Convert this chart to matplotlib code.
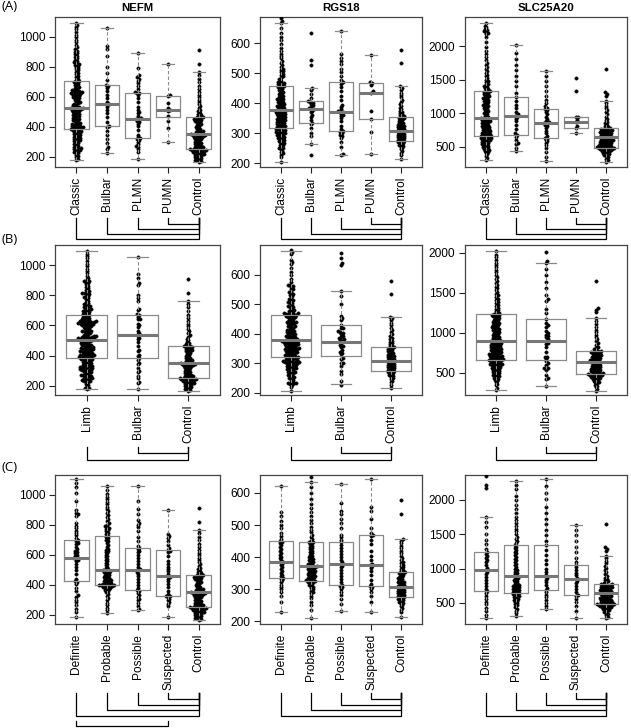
import matplotlib
matplotlib.use("Agg")
import matplotlib.pyplot as plt
import matplotlib.transforms as mtransforms
import numpy as np

plt.rcParams['font.family'] = ['Liberation Sans', 'DejaVu Sans']

# ---------------- data ----------------
genes = ["NEFM", "RGS18", "SLC25A20"]
groups_a = ["Classic", "Bulbar", "PLMN", "PUMN", "Control"]
groups_b = ["Limb", "Bulbar", "Control"]
groups_c = ["Definite", "Probable", "Possible", "Suspected", "Control"]

# NEFM
nefm_classic = [178, 186, 199, 207, 214, 222, 229, 233, 238, 241, 244, 248, 252, 257, 263, 266, 271, 279, 284, 290,
                296, 301, 305, 309, 314, 318, 322, 327, 331, 334, 338, 342, 347, 351, 355, 359, 362, 366, 370, 373,
                377, 380, 383, 386, 389, 392, 394, 397, 399, 402, 405, 409, 412, 416, 419, 423, 427, 431, 436, 441,
                445, 450, 454, 459, 463, 468, 472, 477, 481, 486, 490, 495, 499, 503, 507, 511, 514, 517, 520, 522,
                524, 526, 529, 533, 537, 542, 547, 553, 558, 563, 569, 574, 579, 584, 589, 594, 598, 602, 606, 610,
                614, 617, 620, 623, 626, 629, 632, 635, 638, 642, 647, 653, 659, 665, 671, 677, 683, 689, 695, 700,
                705, 712, 720, 729, 738, 748, 757, 766, 775, 783, 791, 799, 806, 812, 818, 824, 830, 838, 846, 855,
                864, 873, 882, 890, 898, 907, 918, 931, 946, 962, 978, 995, 1012, 1030, 1048, 1064, 1078, 1093]
nefm_bulbar = [222, 248, 262, 290, 318, 345, 372, 398, 405, 430, 462, 488, 512, 530, 545, 552, 566, 590, 612, 640,
               655, 668, 676, 712, 760, 800, 868, 915, 940, 1055]
nefm_bulbar_extra = [180, 215, 300, 352, 384, 440, 520, 600, 640, 700, 780, 880]
nefm_plmn = [182, 230, 248, 262, 270, 285, 300, 312, 318, 324, 330, 345, 380, 402, 418, 430, 440, 446, 451, 455,
             470, 488, 500, 512, 530, 562, 590, 612, 622, 627, 632, 650, 672, 690, 705, 718, 730, 742, 790, 893]
nefm_pumn = [300, 390, 440, 470, 505, 511, 525, 560, 607, 612, 818]
nefm_control = [167, 172, 176, 180, 183, 188, 191, 196, 199, 204, 207, 211, 214, 218, 220, 223, 226, 228, 232, 234,
                236, 238, 240, 242, 244, 246, 248, 250, 252, 253, 256, 259, 262, 266, 268, 273, 276, 281, 285, 290,
                296, 300, 305, 311, 315, 320, 324, 328, 331, 334, 337, 340, 342, 344, 346, 348, 351, 354, 357, 360,
                364, 368, 372, 377, 382, 387, 392, 398, 404, 410, 416, 422, 428, 433, 438, 442, 446, 450, 454, 458,
                461, 464, 467, 472, 478, 485, 493, 502, 512, 523, 535, 548, 562, 578, 595, 612, 630, 650, 672, 695,
                720, 745, 762, 818, 911]
nefm_definite = [182, 215, 240, 262, 285, 300, 318, 330, 355, 380, 402, 415, 422, 440, 470, 500, 520, 540, 555, 565,
                 572, 578, 585, 592, 600, 610, 618, 625, 635, 650, 668, 680, 692, 700, 712, 730, 745, 760, 775, 790,
                 810, 860, 870, 880, 900, 960, 1010, 1050, 1080, 1104]
nefm_probable = [211, 228, 245, 262, 280, 298, 312, 325, 338, 348, 356, 362, 368, 372, 376, 380, 383, 386, 389, 391,
                 393, 395, 397, 399, 400, 402, 405, 408, 411, 414, 418, 422, 426, 430, 434, 438, 442, 447, 452, 457,
                 462, 467, 472, 477, 482, 486, 490, 494, 497, 500, 505, 512, 520, 528, 537, 546, 555, 564, 573, 582,
                 591, 600, 608, 615, 622, 630, 640, 652, 664, 676, 688, 698, 708, 718, 727, 735, 745, 755, 765, 772,
                 778, 785, 792, 800, 810, 822, 835, 848, 862, 876, 890, 905, 920, 935, 950, 968, 985, 1005, 1030, 1060]
nefm_possible = [229, 240, 258, 275, 295, 305, 318, 330, 345, 358, 367, 380, 400, 420, 440, 458, 472, 485, 495, 500,
                 505, 520, 540, 560, 580, 600, 615, 625, 635, 642, 660, 690, 720, 760, 785, 800, 812, 830, 870, 905,
                 960, 1060]
nefm_suspected = [184, 255, 272, 285, 296, 305, 315, 322, 327, 340, 360, 385, 405, 425, 440, 450, 456, 470, 490, 505,
                  520, 540, 560, 590, 615, 625, 633, 645, 665, 690, 710, 722, 735, 900]

# RGS18
rgs18_classic = [206, 221, 229, 234, 238, 243, 247, 250, 253, 257, 260, 262, 265, 268, 270, 273, 276, 278, 280, 283,
                 285, 287, 289, 291, 293, 295, 297, 299, 301, 302, 304, 306, 308, 310, 311, 313, 315, 316, 318, 320,
                 321, 323, 325, 326, 328, 330, 331, 333, 335, 336, 338, 340, 342, 343, 345, 347, 348, 350, 352, 354,
                 355, 357, 359, 361, 363, 364, 366, 368, 370, 371, 373, 375, 376, 378, 380, 382, 384, 386, 388, 390,
                 392, 394, 396, 398, 400, 402, 404, 406, 409, 411, 414, 416, 419, 421, 424, 427, 430, 433, 436, 439,
                 442, 445, 448, 451, 454, 456, 458, 461, 463, 465, 467, 469, 472, 476, 480, 485, 490, 494, 498, 503,
                 507, 511, 516, 522, 528, 535, 542, 550, 558, 566, 575, 585, 597, 610, 622, 635, 650, 669, 675, 683]
rgs18_bulbar = [228, 263, 290, 300, 318, 330, 336, 345, 355, 362, 370, 376, 380, 382, 384, 388, 393, 398, 402, 405,
                408, 418, 430, 445, 452, 528, 544, 633]
rgs18_bulbar_extra = [240, 275, 300, 315, 340, 360, 420, 460, 500, 640, 656, 673]
rgs18_plmn = [228, 232, 255, 270, 283, 290, 296, 302, 306, 308, 315, 325, 340, 350, 358, 362, 366, 370, 372, 375,
              380, 388, 395, 410, 425, 440, 455, 465, 470, 478, 492, 505, 515, 530, 540, 552, 565, 642]
rgs18_pumn = [233, 305, 349, 375, 435, 440, 460, 467, 470, 561]
rgs18_control = [215, 228, 236, 242, 247, 251, 255, 258, 261, 264, 267, 269, 271, 273, 275, 277, 279, 281, 283, 285,
                 287, 289, 291, 293, 295, 297, 299, 301, 303, 305, 307, 309, 311, 313, 315, 317, 320, 322, 324, 326,
                 329, 331, 334, 336, 339, 341, 344, 347, 350, 352, 354, 357, 360, 364, 368, 372, 376, 381, 386, 392,
                 398, 405, 412, 420, 428, 436, 445, 452, 457, 535, 578]
rgs18_definite = [228, 262, 280, 292, 300, 308, 315, 322, 328, 333, 335, 340, 346, 352, 358, 364, 370, 375, 380, 384,
                  386, 390, 396, 402, 408, 414, 420, 426, 432, 438, 444, 448, 452, 458, 465, 475, 490, 500, 512, 528,
                  540, 621]
rgs18_probable = [210, 235, 250, 262, 272, 280, 287, 292, 296, 300, 304, 308, 311, 314, 317, 320, 322, 324, 326, 327,
                  329, 331, 333, 335, 337, 339, 341, 343, 345, 347, 349, 351, 353, 355, 357, 359, 361, 363, 365, 367,
                  369, 371, 372, 373, 374, 376, 378, 380, 383, 386, 389, 392, 395, 398, 401, 404, 408, 412, 416, 420,
                  424, 428, 432, 436, 440, 444, 446, 448, 452, 458, 464, 470, 478, 486, 495, 505, 515, 528, 540, 552,
                  565, 580, 600, 618, 633, 650]
rgs18_possible = [233, 255, 270, 282, 292, 300, 306, 310, 314, 322, 332, 342, 352, 360, 368, 374, 379, 384, 392, 400,
                  410, 420, 430, 438, 446, 455, 462, 470, 490, 505, 520, 535, 545, 570, 629]
rgs18_suspected = [228, 262, 280, 292, 300, 306, 309, 318, 330, 345, 358, 366, 372, 375, 380, 392, 405, 420, 440, 455,
                   465, 470, 475, 490, 520, 545, 555, 644]

# SLC25A20
slc_classic = [301, 330, 360, 385, 405, 420, 435, 448, 460, 472, 483, 494, 505, 515, 525, 535, 545, 555, 564, 572,
               580, 588, 595, 602, 608, 614, 620, 626, 632, 638, 644, 650, 655, 659, 665, 672, 680, 688, 695, 702,
               710, 718, 726, 734, 742, 750, 758, 766, 774, 782, 790, 798, 806, 814, 822, 830, 838, 846, 854, 862,
               870, 878, 886, 894, 902, 910, 916, 922, 935, 950, 965, 980, 995, 1010, 1025, 1040, 1055, 1070, 1085,
               1100, 1112, 1124, 1136, 1148, 1160, 1172, 1184, 1196, 1208, 1220, 1232, 1244, 1256, 1268, 1280, 1292,
               1304, 1316, 1326, 1334, 1350, 1365, 1380, 1395, 1410, 1425, 1440, 1460, 1480, 1500, 1525, 1550, 1575,
               1600, 1630, 1660, 1690, 1720, 1750, 1790, 1830, 1880, 1930, 1990, 2060, 2130, 2180, 2200, 2215, 2230,
               2245, 2260, 2280, 2300, 2348]
slc_bulbar = [440, 480, 540, 560, 600, 650, 679, 700, 760, 830, 880, 920, 950, 957, 980, 1020, 1080, 1120, 1180, 1245,
              1300, 1400, 1480, 1560, 1640, 1720, 1800, 1900, 2015]
slc_bulbar_extra = [333, 420, 560, 620, 700, 860, 900, 1000, 1100, 1420, 1875]
slc_plmn = [291, 350, 420, 480, 520, 555, 580, 600, 620, 634, 660, 700, 740, 780, 810, 830, 845, 858, 870, 890,
            920, 950, 980, 1010, 1040, 1056, 1075, 1100, 1150, 1200, 1260, 1330, 1400, 1480, 1560, 1632]
slc_pumn = [699, 783, 810, 872, 900, 947, 950, 1334, 1528]
slc_limb = [292, 318, 345, 368, 386, 402, 415, 428, 440, 451, 461, 470, 479, 487, 495, 503, 511, 518, 525, 532,
            539, 546, 553, 559, 565, 571, 577, 583, 589, 594, 599, 604, 609, 614, 619, 624, 629, 634, 639, 644,
            649, 654, 659, 663, 667, 671, 676, 681, 686, 691, 696, 701, 706, 711, 716, 721, 726, 731, 736, 741,
            746, 751, 756, 761, 766, 771, 776, 781, 786, 791, 796, 801, 806, 811, 816, 821, 826, 831, 836, 841,
            846, 851, 856, 861, 866, 871, 876, 881, 886, 891, 896, 903, 911, 919, 927, 935, 943, 951, 959, 967,
            975, 983, 991, 999, 1007, 1015, 1023, 1031, 1039, 1047, 1055, 1063, 1071, 1079, 1087, 1095, 1103, 1111,
            1119, 1127, 1135, 1143, 1151, 1159, 1167, 1175, 1183, 1191, 1199, 1207, 1215, 1222, 1229, 1236, 1242,
            1255, 1270, 1285, 1300, 1318, 1336, 1354, 1372, 1390, 1410, 1430, 1450, 1470, 1490, 1512, 1535, 1558,
            1580, 1605, 1630, 1655, 1680, 1705, 1730, 1760, 1790, 1820, 1850, 1880, 1910, 1945, 1980, 2021]
slc_control = [278, 300, 320, 340, 355, 370, 382, 393, 403, 412, 420, 428, 435, 442, 448, 454, 459, 464, 469, 473,
               477, 481, 484, 486, 490, 495, 500, 505, 510, 516, 522, 528, 534, 540, 546, 552, 558, 564, 570, 576,
               582, 588, 594, 600, 606, 612, 618, 624, 630, 636, 641, 646, 652, 658, 664, 670, 676, 682, 688, 694,
               700, 706, 712, 718, 724, 730, 736, 742, 748, 754, 760, 766, 771, 775, 785, 800, 815, 830, 850, 870,
               895, 920, 950, 980, 1010, 1040, 1075, 1110, 1150, 1185, 1260, 1290, 1310, 1652]
slc_definite = [282, 330, 380, 430, 480, 520, 560, 600, 640, 669, 700, 740, 790, 840, 880, 920, 950, 984, 1010, 1050,
                1090, 1120, 1150, 1180, 1210, 1236, 1280, 1350, 1420, 1500, 1600, 1680, 1748, 2169, 2218, 2350]
slc_probable = [316, 350, 390, 420, 445, 465, 485, 500, 515, 530, 545, 558, 570, 582, 594, 605, 615, 625, 635, 645,
                655, 665, 675, 685, 695, 705, 715, 725, 735, 745, 755, 765, 775, 790, 805, 820, 835, 850, 865, 880,
                897, 915, 935, 955, 975, 995, 1020, 1045, 1070, 1095, 1120, 1145, 1170, 1195, 1220, 1245, 1270, 1295,
                1320, 1337, 1370, 1400, 1430, 1460, 1500, 1540, 1580, 1620, 1660, 1700, 1750, 1800, 1860, 1920, 1990,
                2060, 2150, 2220, 2266]
slc_possible = [413, 450, 500, 540, 580, 620, 660, 694, 720, 760, 800, 840, 870, 887, 910, 950, 1000, 1060, 1130, 1200,
                1270, 1337, 1400, 1480, 1560, 1640, 1720, 1800, 1900, 2010, 2100, 2200, 2300]
slc_suspected = [282, 380, 450, 520, 560, 600, 621, 660, 700, 740, 790, 820, 848, 870, 900, 940, 980, 1020, 1056, 1100,
                 1160, 1240, 1320, 1400, 1480, 1560, 1637]

# limb onset patients = classic + PLMN + PUMN
nefm_limb = nefm_classic + nefm_plmn + nefm_pumn
rgs18_limb = rgs18_classic + rgs18_plmn + rgs18_pumn

# box stats (whisker low, q1, median, q3, whisker high)
nefm_box_a = [(178, 387, 527, 707, 1093), (222, 404, 549, 676, 1055), (182, 324, 451, 627, 893),
              (300, 462, 511, 607, 818), (167, 253, 349, 467, 762)]
nefm_box_b = [(180, 384, 501, 672, 1093), (180, 384, 535, 668, 1055), (167, 253, 349, 467, 762)]
nefm_box_c = [(182, 422, 578, 700, 1104), (211, 400, 500, 727, 1060), (229, 367, 500, 642, 1060),
              (184, 327, 456, 633, 900), (167, 253, 349, 467, 762)]
rgs18_box_a = [(206, 317, 378, 458, 669), (263, 336, 382, 408, 452), (228, 308, 372, 470, 642),
               (233, 349, 435, 467, 561), (215, 275, 307, 354, 457)]
rgs18_box_b = [(208, 321, 380, 465, 679), (230, 324, 371, 431, 546), (215, 275, 307, 354, 457)]
rgs18_box_c = [(228, 335, 384, 452, 621), (210, 327, 374, 448, 633), (233, 314, 379, 446, 629),
               (228, 309, 375, 470, 644), (215, 275, 307, 354, 457)]
slc_box_a = [(301, 659, 922, 1334, 2348), (440, 679, 957, 1245, 2015), (291, 634, 858, 1056, 1632),
             (699, 783, 872, 947, 950), (278, 486, 641, 775, 1185)]
slc_box_b = [(292, 667, 896, 1242, 2021), (333, 658, 904, 1175, 1875), (278, 486, 641, 775, 1185)]
slc_box_c = [(282, 669, 984, 1236, 1748), (316, 645, 897, 1337, 2266), (413, 694, 887, 1337, 2300),
             (282, 621, 848, 1056, 1637), (278, 486, 641, 775, 1185)]

nefm_ticks = [200, 400, 600, 800, 1000]
rgs18_ticks = [200, 300, 400, 500, 600]
slc_ticks = [500, 1000, 1500, 2000]

# ---------------- layout ----------------
W, H = 631, 728
fig = plt.figure(figsize=(W / 100, H / 100), dpi=100)

col_px = [(55, 220), (260, 422), (465, 627)]
row_px = [(17, 167), (245, 395), (475, 624)]
ylims = {
    "NEFM": [(131, 1131), (138, 1135), (138, 1131)],
    "RGS18": [(188, 688), (193, 700), (192, 656)],
    "SLC25A20": [(198, 2432), (225, 2100), (195, 2358)],
}

GRAY = "#8a8a8a"


def fy(p):
    return 1 - p / H


def swarm(vals, ax, d=2.2):
    # simple beeswarm: x offsets in pixels
    ys = ax.transData.transform(np.column_stack([np.ones(len(vals)), vals]))[:, 1]
    order = np.argsort(ys)
    px, py = [], []
    off = np.zeros(len(vals))
    for i in order:
        y = ys[i]
        near = [(a, b) for a, b in zip(px, py) if abs(b - y) < d]
        cands = [0.0]
        for a, b in near:
            dx = np.sqrt(d * d - (b - y) ** 2)
            cands += [a + dx, a - dx]
        cands.sort(key=abs)
        for c in cands:
            if all((c - a) ** 2 + (y - b) ** 2 >= d * d - 1e-6 for a, b in near):
                off[i] = c
                break
        px.append(off[i])
        py.append(y)
    return off


def panel(ax, data, boxes, names, ylim, ticks):
    n = len(names)
    pos = np.arange(1, n + 1)
    pad = 0.04 * n
    ax.set_xlim(0.5 - pad, n + 0.5 + pad)
    ax.set_ylim(*ylim)
    width_px = ax.get_window_extent().width
    ppu = width_px / (n + 2 * pad)
    for k, vals in enumerate(data):
        off = swarm(vals, ax) / ppu
        ax.plot(pos[k] + off, vals, 'o', ms=2.4, mew=0.35, mec='black', color='black', zorder=3)
    stats = [dict(whislo=b[0], q1=b[1], med=b[2], q3=b[3], whishi=b[4], fliers=[]) for b in boxes]
    ax.bxp(stats, positions=pos, widths=0.8, capwidths=0.4, showfliers=False, manage_ticks=False,
           boxprops=dict(color=GRAY, lw=0.9),
           medianprops=dict(color="#777777", lw=2.2, solid_capstyle='butt'),
           whiskerprops=dict(color=GRAY, lw=0.8, ls=(0, (3, 2))),
           capprops=dict(color=GRAY, lw=0.9), zorder=4)
    ax.set_xticks(pos)
    ax.set_xticklabels(names, rotation=90, fontsize=8.6)
    ax.set_yticks(ticks)
    ax.set_yticklabels([str(t) for t in ticks], fontsize=8.6)
    ax.tick_params(direction='out', length=4.5, width=0.8, pad=2.5, colors='#222222', labelcolor='black')
    for s in ax.spines.values():
        s.set_color('#444444')
        s.set_linewidth(0.9)


def bracket(ax, g, ctrl, top, y):
    tr = mtransforms.blended_transform_factory(ax.transData, fig.transFigure)
    ax.plot([g, g, ctrl, ctrl], [fy(top), fy(y), fy(y), fy(top)], color='black', lw=0.9,
            transform=tr, clip_on=False, solid_joinstyle='miter')


gene_data = {
    "NEFM": ([nefm_classic, nefm_bulbar, nefm_plmn, nefm_pumn, nefm_control],
             [nefm_limb, nefm_bulbar + nefm_bulbar_extra, nefm_control],
             [nefm_definite, nefm_probable, nefm_possible, nefm_suspected, nefm_control],
             [nefm_box_a, nefm_box_b, nefm_box_c], nefm_ticks),
    "RGS18": ([rgs18_classic, rgs18_bulbar, rgs18_plmn, rgs18_pumn, rgs18_control],
              [rgs18_limb, rgs18_bulbar + rgs18_bulbar_extra, rgs18_control],
              [rgs18_definite, rgs18_probable, rgs18_possible, rgs18_suspected, rgs18_control],
              [rgs18_box_a, rgs18_box_b, rgs18_box_c], rgs18_ticks),
    "SLC25A20": ([slc_classic, slc_bulbar, slc_plmn, slc_pumn, slc_control],
                 [slc_limb, slc_bulbar + slc_bulbar_extra, slc_control],
                 [slc_definite, slc_probable, slc_possible, slc_suspected, slc_control],
                 [slc_box_a, slc_box_b, slc_box_c], slc_ticks),
}

for c, gene in enumerate(genes):
    da, db, dc, boxes, ticks = gene_data[gene]
    x0, x1 = col_px[c]
    for r, (data, names) in enumerate([(da, groups_a), (db, groups_b), (dc, groups_c)]):
        y0, y1 = row_px[r]
        ax = fig.add_axes([x0 / W, 1 - y1 / H, (x1 - x0) / W, (y1 - y0) / H])
        panel(ax, data, boxes[r], names, ylims[gene][r], ticks)
        if r == 0:
            ax.set_title(gene, fontsize=8.2, fontweight='bold', pad=4)
            for g, y in zip([1, 2, 3, 4], [239, 234, 229, 224]):
                bracket(ax, g, 5, 218, y)
        elif r == 1:
            for g, y in zip([1, 2], [460, 453]):
                bracket(ax, g, 3, 447, y)
        else:
            for g, y in zip([1, 2, 3, 4], [716, 710, 705, 699]):
                bracket(ax, g, 5, 693, y)
            if c == 0:
                bracket(ax, 1, 4, 721, 726)

for lab, yp in [("(A)", 6), ("(B)", 240), ("(C)", 467)]:
    fig.text(1 / W, fy(yp), lab, fontsize=9.5, va='center', ha='left', family=['Open Sans', 'DejaVu Sans'])

fig.savefig("out.png", dpi=100)
